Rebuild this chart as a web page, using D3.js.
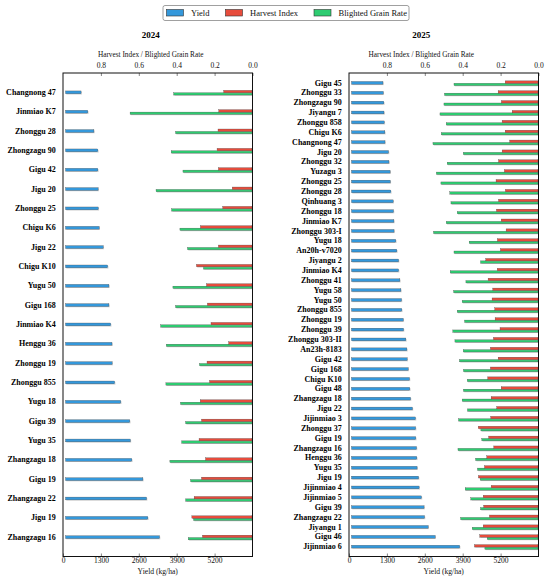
<!DOCTYPE html>
<html>
<meta charset="utf-8">
<script src="https://d3js.org/d3.v7.min.js"></script>
<style>
  body { margin: 0; background: #fff; }
  text { font-family: "Liberation Serif", "Times New Roman", serif; }
</style>
<body>
<div id="my_dataviz"></div>
<script>

// ---- data ----
var varieties2024 = ["Changnong 47", "Jinmiao K7", "Zhonggu 28", "Zhongzagu 90", "Gigu 42", "Jigu 20",
  "Zhonggu 25", "Chigu K6", "Jigu 22", "Chigu K10", "Yugu 50", "Gigu 168", "Jinmiao K4", "Henggu 36",
  "Zhonggu 19", "Zhonggu 855", "Yugu 18", "Gigu 39", "Yugu 35", "Zhangzagu 18", "Gigu 19",
  "Zhangzagu 22", "Jigu 19", "Zhangzagu 16"];
var yield2024 = [620, 850, 1060, 1195, 1195, 1205, 1210, 1240, 1380, 1530, 1575, 1575, 1635, 1680,
  1685, 1770, 1980, 2290, 2310, 2360, 2740, 2865, 2910, 3310];
var hi2024 = [0.152, 0.178, 0.182, 0.187, 0.180, 0.107, 0.157, 0.275, 0.180, 0.296, 0.243, 0.238,
  0.219, 0.126, 0.240, 0.227, 0.276, 0.269, 0.282, 0.248, 0.269, 0.308, 0.320, 0.264];
var bgr2024 = [0.416, 0.646, 0.406, 0.429, 0.367, 0.509, 0.427, 0.383, 0.343, 0.259, 0.420, 0.406,
  0.485, 0.455, 0.280, 0.457, 0.380, 0.353, 0.374, 0.436, 0.327, 0.353, 0.311, 0.339];

var varieties2025 = ["Gigu 45", "Zhonggu 33", "Zhongzagu 90", "Jiyangu 7", "Zhonggu 858", "Chigu K6",
  "Changnong 47", "Jigu 20", "Zhonggu 32", "Yuzagu 3", "Zhonggu 25", "Zhonggu 28", "Qinhuang 3",
  "Zhonggu 18", "Jinmiao K7", "Zhonggu 303-I", "Yugu 18", "An20h-v7020", "Jiyangu 2", "Jinmiao K4",
  "Zhonggu 41", "Yugu 58", "Yugu 50", "Zhonggu 855", "Zhonggu 19", "Zhonggu 39", "Zhonggu 303-II",
  "An23h-8183", "Gigu 42", "Gigu 168", "Chigu K10", "Gigu 48", "Zhangzagu 18", "Jigu 22",
  "Jijinmiao 3", "Zhonggu 37", "Gigu 19", "Zhangzagu 16", "Henggu 36", "Yugu 35", "Jigu 19",
  "Jijinmiao 4", "Jijinmiao 5", "Gigu 39", "Zhangzagu 22", "Jiyangu 1", "Gigu 46", "Jijinmiao 6"];
var yield2025 = [1165, 1175, 1195, 1200, 1210, 1230, 1235, 1355, 1370, 1410, 1415, 1435, 1515, 1525,
  1540, 1545, 1605, 1640, 1700, 1700, 1745, 1780, 1800, 1810, 1860, 1870, 1950, 1985, 1995, 2030,
  2075, 2085, 2110, 2175, 2280, 2285, 2290, 2315, 2325, 2335, 2385, 2405, 2485, 2575, 2590, 2715,
  2955, 3795];
var hi2025 = [0.176, 0.213, 0.196, 0.139, 0.192, 0.176, 0.152, 0.192, 0.211, 0.180, 0.224, 0.175,
  0.211, 0.222, 0.197, 0.171, 0.217, 0.201, 0.278, 0.218, 0.266, 0.241, 0.245, 0.231, 0.229, 0.203,
  0.238, 0.254, 0.213, 0.254, 0.268, 0.197, 0.250, 0.220, 0.252, 0.318, 0.263, 0.236, 0.273, 0.285,
  0.317, 0.250, 0.292, 0.289, 0.259, 0.292, 0.310, 0.338];
var bgr2025 = [0.446, 0.496, 0.499, 0.520, 0.487, 0.513, 0.557, 0.397, 0.482, 0.539, 0.515, 0.468,
  0.462, 0.429, 0.487, 0.554, 0.366, 0.446, 0.306, 0.466, 0.383, 0.448, 0.403, 0.429, 0.390, 0.452,
  0.441, 0.397, 0.417, 0.396, 0.376, 0.396, 0.403, 0.375, 0.422, 0.304, 0.299, 0.425, 0.332, 0.322,
  0.308, 0.387, 0.357, 0.306, 0.411, 0.350, 0.271, 0.283];

var yieldTicks = [0, 1300, 2600, 3900, 5200];
var rateTicks = [0.8, 0.6, 0.4, 0.2, 0.0];
var seriesNames = ["Yield", "Harvest Index", "Blighted Grain Rate"];
var seriesColors = ["#3498db", "#e74c3c", "#2ecc71"];

// ---- layout ----
var width = 550, height = 582;
var plotTop = 73, plotBottom = 556.5;

var svg = d3.select("#my_dataviz")
  .append("svg")
    .attr("width", width)
    .attr("height", height);

// legend
var legend = svg.append("g").attr("transform", "translate(163,5.5)");
legend.append("rect")
  .attr("width", 246).attr("height", 15).attr("rx", 2)
  .attr("fill", "#fff").attr("stroke", "#888").attr("stroke-width", 0.8);
var legendX = [3.5, 62.5, 151];
seriesNames.forEach(function(name, i) {
  legend.append("rect")
    .attr("x", legendX[i]).attr("y", 4).attr("width", 17).attr("height", 6.5)
    .attr("fill", seriesColors[i]).attr("stroke", "#333").attr("stroke-width", 0.6);
  legend.append("text")
    .attr("x", legendX[i] + 24.5).attr("y", 10.3)
    .attr("font-size", "8.5px").attr("fill", "#111")
    .text(name);
});

function drawPanel(opts) {
  var g = svg.append("g");
  var x0 = opts.left, x1 = opts.left + 189.5;

  var xYield = d3.scaleLinear().domain([0, 6500]).range([x0, x1]);
  var xRate = d3.scaleLinear().domain([1, 0]).range([x0, x1]);
  var y = d3.scalePoint().domain(opts.names).range([plotTop, plotBottom]).padding(1);

  // title + top label
  g.append("text")
    .attr("x", opts.titleX).attr("y", 37.5)
    .attr("text-anchor", "middle")
    .attr("font-size", "9px").attr("font-weight", "bold")
    .text(opts.title);
  g.append("text")
    .attr("x", opts.titleX).attr("y", 56.8)
    .attr("text-anchor", "middle")
    .attr("font-size", "7.3px").attr("fill", "#111")
    .text("Harvest Index / Blighted Grain Rate");

  // bars with a soft shadow
  function bars(vals, yOff, h, color, isYield) {
    var sel = g.append("g");
    opts.names.forEach(function(n, i) {
      var a = isYield ? xYield(0) + 2.5 : xRate(vals[i]);
      var b = isYield ? xYield(vals[i]) : xRate(0) - 0.5;
      sel.append("rect")
        .attr("x", a + 0.8).attr("y", y(n) + yOff + 0.8)
        .attr("width", b - a).attr("height", h)
        .attr("fill", "#999").attr("opacity", 0.45);
      sel.append("rect")
        .attr("x", a).attr("y", y(n) + yOff)
        .attr("width", b - a).attr("height", h)
        .attr("fill", color).attr("stroke", "#444").attr("stroke-width", 0.3);
    });
  }
  bars(opts.yield, -1.4, 2.8, seriesColors[0], true);
  bars(opts.bgr, 0.4, 2.3, seriesColors[2], false);
  bars(opts.hi, -2.0, 2.4, seriesColors[1], false);

  // axes
  var axTop = g.append("g")
    .attr("transform", "translate(0," + plotTop + ")")
    .call(d3.axisTop(xRate).tickValues(rateTicks).tickFormat(d3.format(".1f"))
      .tickSizeInner(-3).tickSizeOuter(0).tickPadding(5));
  var axBot = g.append("g")
    .attr("transform", "translate(0," + plotBottom + ")")
    .call(d3.axisBottom(xYield).tickValues(yieldTicks).tickFormat(d3.format("d"))
      .tickSizeInner(-3).tickSizeOuter(0).tickPadding(1.5));
  [axTop, axBot].forEach(function(ax) {
    ax.select(".domain").remove();
    ax.selectAll("text").attr("font-size", "7.5px").attr("fill", "#111")
      .style("font-family", "'Liberation Serif', serif");
    ax.selectAll("line").attr("stroke", "#333").attr("stroke-width", 0.6);
  });

  // category labels
  g.append("g").selectAll("text")
    .data(opts.names)
    .enter()
    .append("text")
      .attr("x", x0 - 7.3)
      .attr("y", function(d) { return y(d); })
      .attr("dy", "0.33em")
      .attr("text-anchor", "end")
      .attr("font-size", "8px").attr("font-weight", "bold")
      .text(function(d) { return d; });

  // frame
  g.append("rect")
    .attr("x", x0).attr("y", plotTop)
    .attr("width", x1 - x0).attr("height", plotBottom - plotTop)
    .attr("fill", "none").attr("stroke", "#111").attr("stroke-width", 1);

  g.append("text")
    .attr("x", (x0 + x1) / 2).attr("y", 573.5)
    .attr("text-anchor", "middle")
    .attr("font-size", "7.6px").attr("fill", "#111")
    .text("Yield (kg/ha)");
}

drawPanel({ title: "2024", titleX: 150.7, left: 63, names: varieties2024,
  yield: yield2024, hi: hi2024, bgr: bgr2024 });
drawPanel({ title: "2025", titleX: 421.3, left: 349, names: varieties2025,
  yield: yield2025, hi: hi2025, bgr: bgr2025 });

</script>
</body>
</html>
